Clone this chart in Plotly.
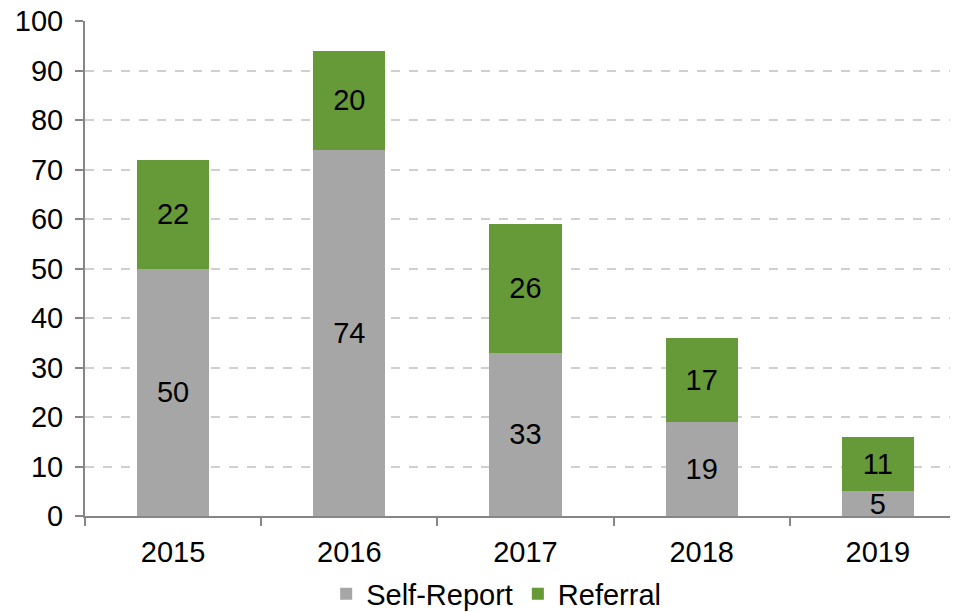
import plotly.graph_objects as go

# data
years = ['2015', '2016', '2017', '2018', '2019']
self_report = [50, 74, 33, 19, 5]
referral = [22, 20, 26, 17, 11]

FONT = 'Liberation Sans, Arial, sans-serif'
label_font = dict(family=FONT, size=29, color='black')

fig = go.Figure()

fig.add_trace(go.Bar(
    x=years, y=self_report, name='Self-Report',
    marker=dict(color='#A6A6A6', line=dict(width=0)),
    text=self_report, textposition='inside', insidetextanchor='middle',
    textfont=label_font, constraintext='none', textangle=0,
))
fig.add_trace(go.Bar(
    x=years, y=referral, name='Referral',
    marker=dict(color='#669937', line=dict(width=0)),
    text=referral, textposition='inside', insidetextanchor='middle',
    textfont=label_font, constraintext='none', textangle=0,
))

# page body has an 8px margin, so the figure is a bit smaller than the window
fig.update_layout(
    barmode='stack',
    bargap=0.59,
    width=950, height=604,
    margin=dict(l=77, r=0, t=13, b=96, autoexpand=False),
    plot_bgcolor='white',
    paper_bgcolor='white',
    font=dict(family=FONT, size=29, color='black'),
    showlegend=True,
    legend=dict(
        orientation='h', traceorder='normal',
        x=0.471, xanchor='center',
        yref='container', y=0.03, yanchor='middle',
        font=dict(family=FONT, size=29, color='black'),
        itemwidth=30, tracegroupgap=0,
    ),
)

fig.update_xaxes(
    type='category', automargin=False,
    range=[-0.5, 4.455],
    showline=True, linecolor='#868686', linewidth=2,
    ticks='outside', tickson='boundaries', ticklen=8,
    tickcolor='#868686', tickwidth=2,
    showgrid=False,
    ticklabelstandoff=9,
    tickfont=dict(family=FONT, size=29, color='black'),
)
fig.update_yaxes(
    range=[0, 100.05], dtick=10, automargin=False,
    showline=True, linecolor='#868686', linewidth=2,
    ticks='outside', ticklen=8, tickcolor='#868686', tickwidth=2,
    showgrid=True, gridcolor='#D0D0D0', griddash='dash', gridwidth=1.5,
    zeroline=False,
    ticklabelstandoff=6, ticklabeloverflow='allow',
    tickfont=dict(family=FONT, size=29, color='black'),
)

fig.write_html("out.html")
